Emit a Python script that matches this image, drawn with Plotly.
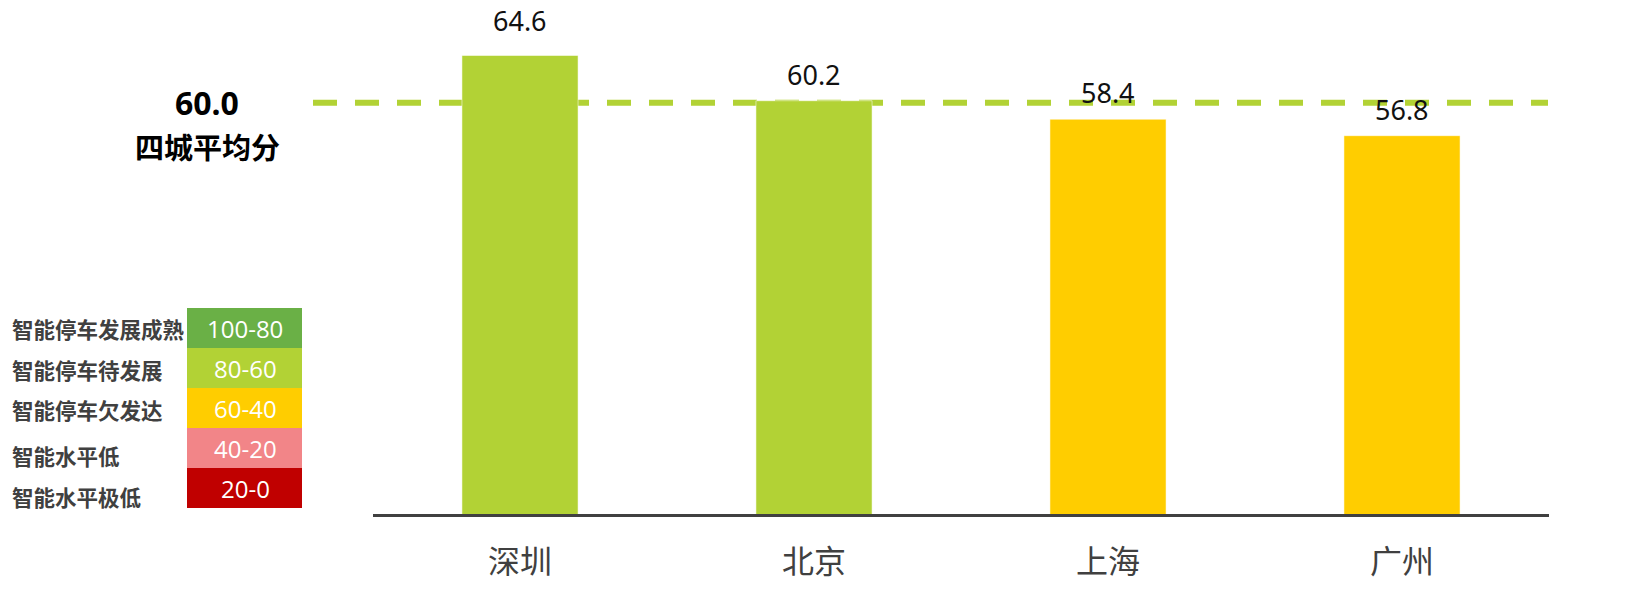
import plotly.graph_objects as go

cities = ["深圳", "北京", "上海", "广州"]
scores = [64.6, 60.2, 58.4, 56.8]
bar_colors = ["#b2d235", "#b2d235", "#ffcd00", "#ffcd00"]
average = 60.0
average_label = "四城平均分"

legend_names = ["智能停车发展成熟", "智能停车待发展", "智能停车欠发达", "智能水平低", "智能水平极低"]
legend_ranges = ["100-80", "80-60", "60-40", "40-20", "20-0"]
legend_colors = ["#6ab046", "#b2d235", "#ffcd00", "#f28588", "#c00000"]

# label offsets above bars (pixels), styling only
label_shifts = [15, 6, 6, 6]

W, H = 1632, 600
L, R, T, B = 373, 83, 0, 86
PW, PH = W - L - R, H - T - B


def px_x(p):
    return (p - L) / PW


def px_y(p):
    return 1 - (p - T) / PH


fig = go.Figure()
fig.add_trace(go.Bar(
    x=cities, y=scores, marker=dict(color=bar_colors, line=dict(color="rgba(255,255,255,0.5)", width=1)),
    width=0.395, hoverinfo="skip",
))

annotations = []
for c, v, s in zip(cities, scores, label_shifts):
    annotations.append(dict(x=c, y=v, xref="x", yref="y", text=f"{v:.1f}", showarrow=False,
                            yanchor="bottom", yshift=s,
                            font=dict(family="Noto Sans, Open Sans", size=27, color="#111111")))

shapes = [dict(type="line", xref="paper", yref="y", x0=px_x(313), x1=px_x(1548), y0=average, y1=average,
               line=dict(color="#b2d235", width=6, dash="24px,18px"), layer="below")]

annotations.append(dict(x=px_x(207), y=px_y(103), xref="paper", yref="paper", text=f"<b>{average:.1f}</b>",
                        showarrow=False, xanchor="center", yanchor="middle",
                        font=dict(family="Noto Sans", size=32, color="#000000")))
annotations.append(dict(x=px_x(207), y=px_y(146), xref="paper", yref="paper", text=f"<b>{average_label}</b>",
                        showarrow=False, xanchor="center", yanchor="middle",
                        font=dict(family="Noto Sans CJK SC", size=29, color="#000000")))

box_top = 308
box_h = 40
label_y = [328, 369, 409, 455, 496]
for i, (name, rng, col) in enumerate(zip(legend_names, legend_ranges, legend_colors)):
    y0 = box_top + i * box_h
    shapes.append(dict(type="rect", xref="paper", yref="paper", x0=px_x(187), x1=px_x(302),
                       y0=px_y(y0 + box_h), y1=px_y(y0), fillcolor=col, line=dict(width=0)))
    annotations.append(dict(x=px_x(245), y=px_y(y0 + box_h / 2), xref="paper", yref="paper", text=rng,
                            showarrow=False, xanchor="center", yanchor="middle",
                            font=dict(family="Open Sans", size=24, color="#ffffff")))
    annotations.append(dict(x=px_x(10), y=px_y(label_y[i]), xref="paper", yref="paper", text=f"<b>{name}</b>",
                            showarrow=False, xanchor="left", yanchor="middle",
                            font=dict(family="Noto Sans CJK SC", size=21.5, color="#404040")))

fig.update_layout(
    width=W, height=H, margin=dict(l=L, r=R, t=T, b=B),
    plot_bgcolor="white", paper_bgcolor="white", showlegend=False,
    xaxis=dict(showline=True, linecolor="#404040", linewidth=3, showgrid=False, ticks="",
               ticklabelstandoff=18,
               tickfont=dict(family="Noto Sans CJK SC", size=32, color="#404040")),
    yaxis=dict(range=[20, 70], visible=False, showgrid=False),
    shapes=shapes, annotations=annotations,
)

fig.write_html("out.html", config={"displayModeBar": False},
               post_script="document.body.style.margin='0';document.body.style.overflow='hidden';")
